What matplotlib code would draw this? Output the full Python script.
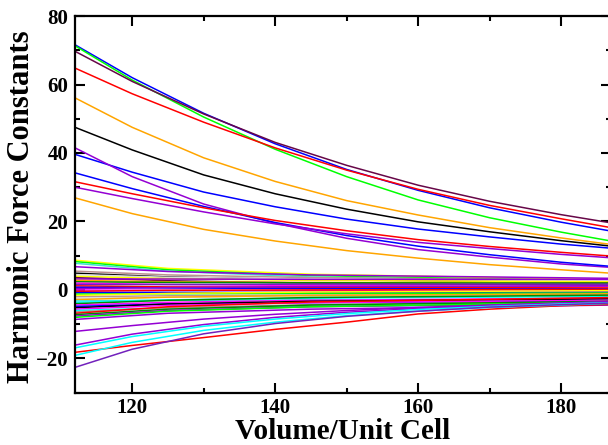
import matplotlib
matplotlib.use("Agg")
import matplotlib.pyplot as plt
from matplotlib.ticker import MultipleLocator

# Grace default palette
GRACE = {
    "black": "#000000", "red": "#ff0000", "green": "#00ff00", "blue": "#0000ff",
    "yellow": "#ffff00", "brown": "#bc8f8f", "grey": "#dcdcdc", "violet": "#9400d3",
    "cyan": "#00ffff", "magenta": "#ff00ff", "orange": "#ffa500", "indigo": "#7221bc",
    "maroon": "#670748", "turquoise": "#40e0d0", "green4": "#008b00",
}

volume = [112, 120, 130, 140, 150, 160, 170, 180, 187]

# large positive / negative force constants (one list per curve)
blue_a = [71.6, 62.0, 51.6, 42.7, 35.2, 29.1, 24.0, 19.8, 17.2]
green_a = [71.3, 61.3, 50.5, 41.1, 33.1, 26.3, 21.1, 16.9, 14.3]
maroon_a = [69.7, 60.9, 51.4, 43.1, 36.4, 30.6, 25.9, 22.0, 19.6]
red_a = [64.8, 57.3, 49.0, 41.5, 35.0, 29.4, 24.7, 20.8, 18.2]
orange_a = [56.1, 47.5, 38.6, 31.7, 26.1, 21.9, 18.2, 15.2, 13.3]
black_a = [47.5, 40.9, 33.6, 28.1, 23.6, 19.9, 17.0, 14.4, 12.8]
blue_b = [39.6, 34.4, 28.6, 24.3, 20.7, 17.8, 15.5, 13.4, 12.2]
violet_a = [41.5, 33.1, 25.1, 19.5, 15.1, 11.8, 9.6, 7.6, 6.6]
blue_c = [34.2, 29.6, 24.4, 19.7, 15.9, 12.8, 10.3, 8.1, 6.9]
red_b = [31.6, 28.1, 24.0, 20.3, 17.3, 14.7, 12.7, 11.0, 9.9]
violet_b = [30.0, 26.7, 22.8, 19.3, 16.4, 13.9, 12.1, 10.4, 9.4]
orange_b = [26.9, 22.3, 17.7, 14.3, 11.5, 9.3, 7.4, 5.9, 4.9]

violet_l1 = [-12.1, -10.4, -8.5, -7.1, -6.0, -5.1, -4.4, -3.8, -3.4]
violet_l2 = [-16.1, -12.9, -10.1, -8.0, -6.5, -5.4, -4.5, -3.9, -3.5]
cyan_l3 = [-16.9, -13.6, -10.6, -8.5, -6.9, -5.7, -4.8, -4.1, -3.7]
red_l4 = [-18.2, -16.2, -13.9, -11.5, -9.4, -7.0, -5.6, -4.6, -4.2]
cyan_l5 = [-19.1, -15.3, -11.8, -9.4, -7.5, -6.2, -5.1, -4.4, -3.9]
indigo_l6 = [-22.6, -17.3, -12.8, -9.8, -7.7, -6.2, -5.0, -4.3, -3.8]

big_curves = [
    (blue_a, "blue"), (green_a, "green"), (maroon_a, "maroon"), (red_a, "red"),
    (orange_a, "orange"), (black_a, "black"), (blue_b, "blue"), (violet_a, "violet"),
    (blue_c, "blue"), (red_b, "red"), (violet_b, "violet"), (orange_b, "orange"),
    (violet_l1, "violet"), (violet_l2, "violet"), (cyan_l3, "cyan"),
    (red_l4, "red"), (cyan_l5, "cyan"), (indigo_l6, "indigo"),
]

# small constants (dense band around zero), read at four volumes
band_volume = [112, 125, 145, 187]
band_colors = [
    "yellow", "green", "turquoise", "violet", "brown", "black", "grey", "yellow",
    "maroon", "violet", "orange", "green4", "magenta", "indigo", "red", "blue",
    "violet", "magenta", "red", "blue", "green", "yellow", "brown", "grey",
    "orange", "turquoise", "cyan", "green4", "magenta", "blue", "black", "magenta",
    "cyan", "brown", "red", "green4", "violet", "green", "violet",
]
band_v112 = [8.7, 8.3, 7.8, 6.8, 5.5, 4.9, 4.5, 4.0, 3.6, 3.2, 2.8, 2.4, 2.0,
             1.6, 1.2, 0.8, 0.4, 0.0, -0.4, -0.8, -1.2, -1.6, -2.0, -2.4, -2.8,
             -3.2, -3.6, -4.0, -4.4, -4.8, -5.2, -5.6, -6.0, -6.4, -6.8, -7.2,
             -7.6, -8.0, -8.6]
band_v125 = [6.3, 5.9, 5.5, 5.4, 4.4, 3.8, 3.7, 3.3, 2.7, 3.2, 2.4, 2.2, 1.6,
             1.6, 0.9, 0.6, 0.7, -0.1, -0.1, -0.7, -1.1, -1.0, -1.7, -2.1, -2.1,
             -3.0, -2.9, -3.0, -3.6, -4.1, -4.1, -4.5, -5.2, -5.2, -4.9, -5.6,
             -6.0, -6.2, -6.8]
band_v145 = [4.6, 4.2, 3.8, 4.4, 3.6, 3.0, 3.2, 2.8, 2.0, 3.1, 2.2, 2.1, 1.3,
             1.7, 0.8, 0.4, 1.0, -0.1, 0.0, -0.7, -1.0, -0.6, -1.5, -1.8, -1.6,
             -2.9, -2.4, -2.2, -3.0, -3.7, -3.3, -3.7, -4.7, -4.3, -3.5, -4.4,
             -4.9, -4.9, -5.6]
band_v187 = [3.0, 2.6, 2.3, 3.4, 2.9, 2.2, 2.7, 2.4, 1.4, 3.1, 1.9, 2.0, 1.0,
             1.7, 0.6, 0.3, 1.2, -0.2, 0.2, -0.6, -0.9, -0.2, -1.3, -1.6, -1.1,
             -2.8, -1.9, -1.5, -2.4, -3.2, -2.6, -3.0, -4.2, -3.5, -2.2, -3.3,
             -3.9, -3.6, -4.4]

plt.rcParams["font.family"] = ["Liberation Serif", "DejaVu Serif"]
plt.rcParams["font.weight"] = "bold"

fig = plt.figure(figsize=(6.08, 4.45), dpi=100)
ax = fig.add_axes([0.1234, 0.1175, 0.8816, 0.8465])

for c, a, b, m, e in zip(band_colors, band_v112, band_v125, band_v145, band_v187):
    ax.plot(band_volume, [a, b, m, e], color=GRACE[c], lw=1.1)

for vals, c in big_curves:
    ax.plot(volume, vals, color=GRACE[c], lw=1.1)

ax.set_xlim(112, 187)
ax.set_ylim(-30, 80)
ax.xaxis.set_major_locator(MultipleLocator(20))
ax.xaxis.set_minor_locator(MultipleLocator(10))
ax.yaxis.set_major_locator(MultipleLocator(20))
ax.yaxis.set_minor_locator(MultipleLocator(10))
ax.tick_params(which="both", direction="in", top=True, right=True, width=1.5,
               labelsize=15, pad=5)
ax.tick_params(axis="x", which="both", pad=4)
ax.tick_params(which="major", length=7.5)
ax.tick_params(which="minor", length=3.8)
for lab in ax.get_xticklabels() + ax.get_yticklabels():
    lab.set_fontweight("bold")
for sp in ax.spines.values():
    sp.set_linewidth(1.6)

ax.set_xlabel("Volume/Unit Cell", fontsize=21, fontweight="bold")
ax.xaxis.set_label_coords(0.5, -0.066)
ax.set_ylabel("Harmonic Force Constants", fontsize=22, fontweight="bold")
ax.yaxis.set_label_coords(-0.072, 0.494)

fig.savefig("out.png", dpi=100)
